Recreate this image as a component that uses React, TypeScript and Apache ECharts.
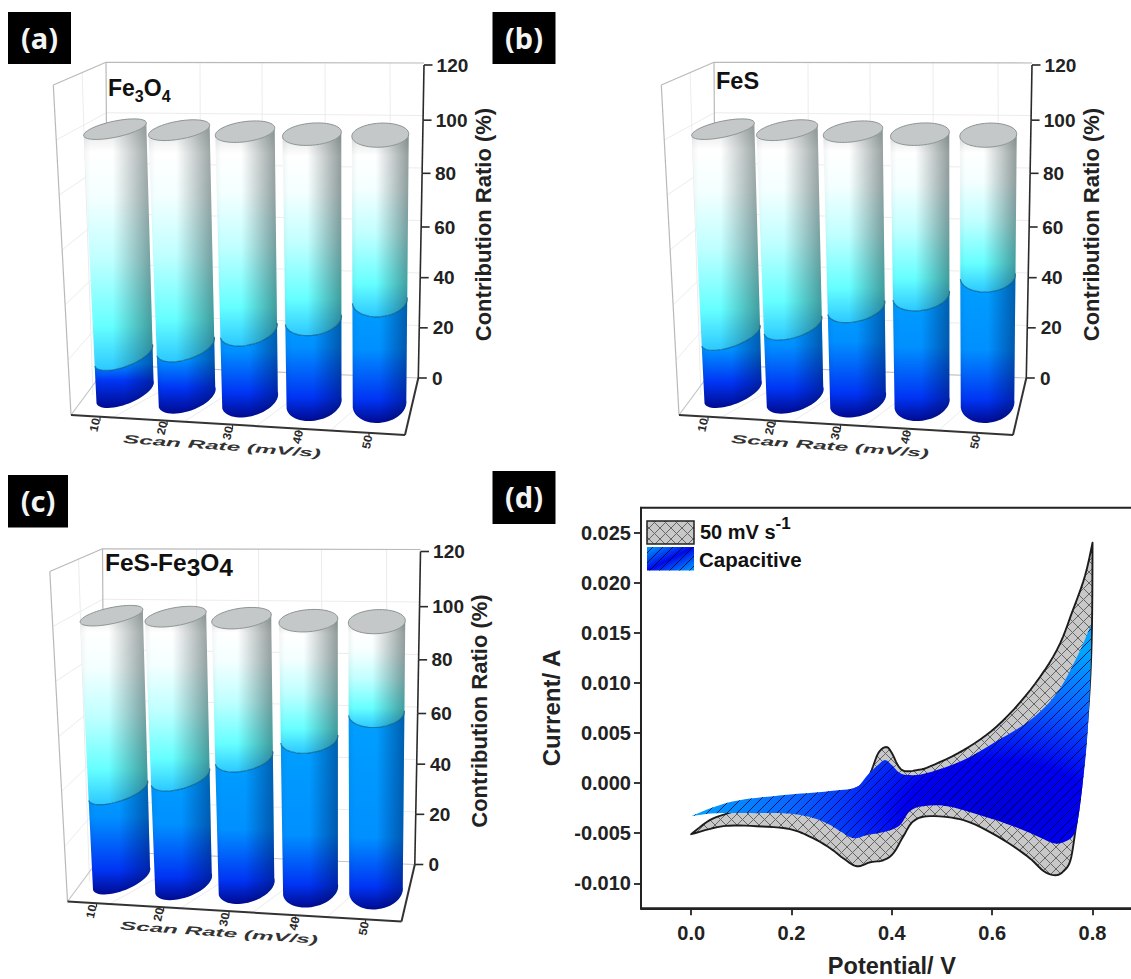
import React, { useEffect, useRef } from "react";
import * as echarts from "echarts";

const FONT = "Liberation Sans";

const scanRates = ["10", "20", "30", "40", "50"];
const capFe3O4 = [14, 19, 26, 31, 38.5];
const capFeS = [21.5, 27, 34.5, 40, 47.5];
const capComposite = [33.5, 40, 48, 56, 66];
const totalPct = 100;
const ratioTicks = [0, 20, 40, 60, 80, 100, 120];

const potentialTicks = [0, 0.2, 0.4, 0.6, 0.8];
const currentTicks = [-0.01, -0.005, 0, 0.005, 0.01, 0.015, 0.02, 0.025];

const cvUpperBranch = [
  [0, -0.0051], [0.037, -0.0037], [0.074, -0.003], [0.13, -0.0022], [0.2, -0.0015], [0.3, -0.0009],
  [0.34, -0.0002], [0.357, 0.001], [0.373, 0.003], [0.389, 0.0036], [0.4, 0.003], [0.413, 0.0017],
  [0.426, 0.0012], [0.45, 0.0013], [0.476, 0.00166], [0.543, 0.0033], [0.609, 0.00565], [0.676, 0.0093],
  [0.729, 0.0133], [0.761, 0.0173], [0.785, 0.0207], [0.8, 0.024],
];
const cvLowerBranch = [
  [0.8, 0.024], [0.799, 0.016], [0.795, 0.01], [0.786, 0.004], [0.776, -0.001], [0.766, -0.0047],
  [0.756, -0.0077], [0.742, -0.0088], [0.726, -0.0092], [0.703, -0.0088], [0.67, -0.0073], [0.61, -0.0053],
  [0.543, -0.0037], [0.476, -0.0033], [0.443, -0.0038], [0.423, -0.0053], [0.403, -0.007], [0.383, -0.0077],
  [0.357, -0.0079], [0.33, -0.0083], [0.303, -0.0075], [0.277, -0.0065], [0.243, -0.0055], [0.197, -0.0046],
  [0.13, -0.0043], [0.064, -0.0043], [0, -0.0051],
];
const capUpperBranch = [
  [0, -0.0033], [0.05, -0.0023], [0.097, -0.0017], [0.164, -0.0013], [0.23, -0.001], [0.297, -0.0007],
  [0.33, -0.0004], [0.35, 0.0007], [0.37, 0.0017], [0.386, 0.0023], [0.4, 0.0018], [0.416, 0.001],
  [0.436, 0.0008], [0.47, 0.001], [0.543, 0.0023], [0.609, 0.0042], [0.676, 0.0063], [0.729, 0.009],
  [0.769, 0.0126], [0.797, 0.0158],
];
const capLowerBranch = [
  [0.797, 0.0158], [0.796, 0.011], [0.79, 0.005], [0.782, 0.0007], [0.772, -0.0033], [0.762, -0.0052],
  [0.742, -0.0059], [0.722, -0.006], [0.69, -0.0053], [0.642, -0.0043], [0.576, -0.0032], [0.51, -0.0023],
  [0.463, -0.0023], [0.436, -0.0028], [0.416, -0.0042], [0.39, -0.0048], [0.35, -0.0052], [0.323, -0.0055],
  [0.297, -0.0048], [0.27, -0.004], [0.23, -0.0033], [0.183, -0.003], [0.13, -0.003], [0.05, -0.003], [0, -0.0033],
];

// perspective geometry of the 3D panels (pixels, relative to each panel's axes)
const geom = {
  baseDx: [0.3, -1.1, -1.5, -0.9, 1.2],
  baseDy: [14, 19, 22, 25, 26],
  topDx: [-9.7, -9, -6.5, -3, 2],
  topDy: [12, 13, 14.5, 17, 18],
  topRx: [32, 31, 30, 29.5, 28.5],
  baseRx: [30.7, 30, 29, 28, 27],
  topRy: [8, 9, 10, 11, 12],
  baseRy: [12, 14, 16, 17.5, 18.8],
  topTilt: [-12, -10, -8, -5, -3],
  baseTilt: [-22, -20, -17, -12, -8],
  labelDx: [-29.7, -26, -23.5, -17, -11],
  labelY: [425, 428, 433, 437, 442],
  tickX: [-24.7, -21, -19, -16, -9.3],
  tickY: [416.7, 421, 425, 430, 432.7],
};
const tickNudge = { 0: 0, 20: 2, 40: 4, 60: 5.5, 80: 4, 100: 3, 120: 0 };
const labelLean = { 0: 0, 20: 0.7, 40: 1.5, 60: 2.3, 80: 3, 100: 3.8, 120: 4.6 };

const panels = [
  { key: "a", caps: capFe3O4, dx: 0, dy: 0 },
  { key: "b", caps: capFeS, dx: 608, dy: 0 },
  { key: "c", caps: capComposite, dx: -3.5, dy: 486.5 },
];

function catmull(pts: number[][]) {
  const out: number[][] = [];
  for (let i = 0; i < pts.length - 1; i++) {
    const p0 = pts[Math.max(0, i - 1)], p1 = pts[i], p2 = pts[i + 1], p3 = pts[Math.min(pts.length - 1, i + 2)];
    for (let k = 0; k < 6; k++) {
      const t = k / 6, t2 = t * t, t3 = t2 * t;
      out.push([0, 1].map((d) => 0.5 * (2 * p1[d] + (p2[d] - p0[d]) * t + (2 * p0[d] - 5 * p1[d] + 4 * p2[d] - p3[d]) * t2 + (3 * p1[d] - p0[d] - 3 * p2[d] + p3[d]) * t3)));
    }
  }
  out.push(pts[pts.length - 1]);
  return out;
}

function makeHatch(size: number, cross: boolean, color: string, bg: string | null) {
  const c = document.createElement("canvas");
  c.width = size; c.height = size;
  const g = c.getContext("2d")!;
  if (bg) { g.fillStyle = bg; g.fillRect(0, 0, size, size); }
  g.strokeStyle = color; g.lineWidth = 1;
  g.beginPath();
  g.moveTo(-1, size + 1); g.lineTo(size + 1, -1);
  if (cross) { g.moveTo(-1, -1); g.lineTo(size + 1, size + 1); }
  g.stroke();
  return { image: c, repeat: "repeat", imageWidth: size, imageHeight: size };
}

const rad = (d: number) => (d * Math.PI) / 180;

function arc(c: number[], rx: number, ry: number, th: number, t0: number, t1: number, n = 28) {
  const pts: number[][] = [];
  for (let k = 0; k <= n; k++) {
    const t = t0 + ((t1 - t0) * k) / n;
    pts.push([
      c[0] + rx * Math.cos(t) * Math.cos(th) - ry * Math.sin(t) * Math.sin(th),
      c[1] + rx * Math.cos(t) * Math.sin(th) + ry * Math.sin(t) * Math.cos(th),
    ]);
  }
  return pts;
}

function renderBar(params: any, api: any) {
  const i = api.value(0);
  const cap = api.value(1);
  const p0 = api.coord([i, 0]);
  const p100 = api.coord([i, totalPct]);
  const base = [p0[0] + geom.baseDx[i], p0[1] + geom.baseDy[i]];
  const top = [p0[0] + geom.topDx[i], p100[1] + geom.topDy[i]];
  const ring = (v: number) => {
    const f = (p0[1] - api.coord([i, v])[1]) / (p0[1] - p100[1]);
    const l = (a: number, b: number) => a + (b - a) * f;
    return {
      c: [l(base[0], top[0]), l(base[1], top[1])],
      rx: l(geom.baseRx[i], geom.topRx[i]),
      ry: l(geom.baseRy[i], geom.topRy[i]),
      th: rad(l(geom.baseTilt[i], geom.topTilt[i])),
    };
  };
  const low = (r: any) => arc(r.c, r.rx, r.ry, r.th, Math.PI, 0);
  const seg = (a: any, b: any) => low(b).concat(low(a).reverse());
  const r0 = ring(0), rc = ring(cap), rt = ring(totalPct);
  const shadeUp = new echarts.graphic.LinearGradient(0, 0, 1, 0, [
    { offset: 0, color: "rgba(20,40,40,0.05)" },
    { offset: 0.1, color: "rgba(20,40,40,0)" },
    { offset: 0.42, color: "rgba(20,40,40,0)" },
    { offset: 1, color: "rgba(20,40,40,0.46)" },
  ]);
  const shadeLow = new echarts.graphic.LinearGradient(0, 0, 1, 0, [
    { offset: 0, color: "rgba(0,0,60,0.06)" },
    { offset: 0.12, color: "rgba(0,0,60,0)" },
    { offset: 0.5, color: "rgba(0,0,60,0)" },
    { offset: 1, color: "rgba(0,10,60,0.42)" },
  ]);
  const lowerH = r0.c[1] - rc.c[1] + 15;
  const lowerFill = new echarts.graphic.LinearGradient(0, 0, 0, 1, [
    { offset: 0, color: "#00a0ff" },
    { offset: Math.max(0.3, 1 - 70 / lowerH), color: "#0090ff" },
    { offset: Math.max(0.55, 1 - 22 / lowerH), color: "#0034f4" },
    { offset: 1, color: "#000a90" },
  ]);
  const upperFill = new echarts.graphic.LinearGradient(0, 0, 0, 1, [
    { offset: 0, color: "#dcdede" },
    { offset: 0.12, color: "#ffffff" },
    { offset: 0.3, color: "#f4ffff" },
    { offset: 0.55, color: "#c0ffff" },
    { offset: 0.82, color: "#66ffff" },
    { offset: 1, color: "#2cc8ff" },
  ]);
  const poly = (points: number[][], fill: any) => ({
    type: "polygon", shape: { points }, style: { fill, stroke: "none" },
  });
  const lowerPts = seg(r0, rc);
  const upperPts = seg(rc, rt);
  return {
    type: "group",
    children: [
      poly(lowerPts, lowerFill),
      poly(lowerPts, shadeLow),
      poly(upperPts, upperFill),
      poly(upperPts, shadeUp),
      { type: "polyline", shape: { points: low(rc) }, style: { fill: "none", stroke: "rgba(0,80,120,0.65)", lineWidth: 1.2 } },
      { type: "polygon", shape: { points: arc(rt.c, rt.rx, rt.ry, rt.th, 0, Math.PI * 2, 56) }, style: { fill: "#c5c8c8", stroke: "#8c9494", lineWidth: 1 } },
      {
        type: "line",
        shape: { x1: p0[0] + geom.tickX[i], y1: 0, x2: p0[0] + geom.tickX[i], y2: 4 },
        y: p0[1] - 378 + geom.tickY[i],
        style: { stroke: "#333", lineWidth: 1.2 },
      },
      {
        type: "text",
        x: p0[0] + geom.labelDx[i],
        y: p0[1] - 378 + geom.labelY[i],
        rotation: rad(78),
        scaleX: 0.95,
        scaleY: 0.9,
        style: {
          text: scanRates[i], fontFamily: FONT, fontWeight: "bold", fontSize: 13, fill: "#2a2a2a",
          align: "center", verticalAlign: "middle",
        },
      },
    ],
  };
}

function makeLeanAxis(xTop: number, xBottom: number) {
  return (params: any, api: any) => {
    const v = api.value(1);
    const idx = ratioTicks.indexOf(v);
    const y = api.coord([0, v])[1] + (tickNudge as any)[v];
    const xAt = (val: number) => xBottom + ((xTop - xBottom) * val) / 120;
    const x = xAt(v);
    const children: any[] = [
      { type: "line", shape: { x1: x, y1: y, x2: x + 8.5, y2: y }, style: { stroke: "#2a2a2a", lineWidth: 1.6 } },
    ];
    if (idx < ratioTicks.length - 1) {
      const nv = ratioTicks[idx + 1];
      const ny = api.coord([0, nv])[1] + (tickNudge as any)[nv];
      children.push({ type: "line", shape: { x1: x, y1: y, x2: xAt(nv), y2: ny }, style: { stroke: "#2a2a2a", lineWidth: 1.6 } });
    }
    return { type: "group", children };
  };
}

function frame(dx: number, dy: number) {
  const L = (x1: number, y1: number, x2: number, y2: number, stroke: string, lineWidth: number) => ({
    type: "line", z: 0, silent: true,
    shape: { x1: x1 + dx, y1: y1 + dy, x2: x2 + dx, y2: y2 + dy },
    style: { stroke, lineWidth },
  });
  const out: any[] = [];
  const faint = "#ececec";
  [20, 40, 60, 80, 100].forEach((v) => {
    const f = (120 - v) / 120;
    out.push(L(106 + 2 * f, 62.3 + 302.7 * f, 424 - 5.7 * f, 63 + 315 * f, faint, 1));
    out.push(L(53.3 + 17.7 * f, 85 + 330 * f, 106 + 2 * f, 62.3 + 302.7 * f, faint, 1));
  });
  [200, 262, 325, 390].forEach((x, k) => {
    const yb = 369 + k * 2.6;
    out.push(L(x, 63, x + 1, yb, faint, 1));
    out.push(L(x + 1, yb, x - 90 + k * 10, 419 + k * 4, faint, 1));
  });
  out.push(L(82, 72, 93, 395, faint, 1));
  const wall = "#b9b9b9";
  out.push(L(106, 62.3, 424, 63, wall, 1.2));
  out.push(L(53.3, 85, 106, 62.3, wall, 1.2));
  out.push(L(53.3, 85, 71, 415, wall, 1.2));
  out.push(L(106, 62.3, 108, 365, wall, 1.2));
  out.push(L(71, 415, 108, 365, "#c4c4c4", 1.2));
  out.push(L(108, 365, 418.3, 378, "#c4c4c4", 1.2));
  out.push(L(71, 415, 405, 435, "#333", 2));
  out.push(L(405, 435, 418.3, 378, "#333", 2));
  return out;
}

function scanRateLabel(x: number, y: number, rot: number) {
  return {
    type: "text", z: 5, x, y, rotation: rad(rot), scaleX: 1.87, scaleY: 0.9,
    style: {
      text: "Scan Rate (mV/s)", fontFamily: FONT, fontWeight: "bold", fontStyle: "italic", fontSize: 13,
      fill: "#333", align: "center", verticalAlign: "middle",
    },
  };
}

function letterBox(x: number, y: number, w: number, h: number, text: string) {
  return [
    { type: "rect", z: 6, shape: { x, y, width: w, height: h }, style: { fill: "#000" } },
    {
      type: "text", z: 7, x: x + w / 2, y: y + h / 2 - 1,
      style: { text, fontFamily: "Noto Sans", fontWeight: "bold", fontSize: 29, fill: "#f4f4f4", align: "center", verticalAlign: "middle" },
    },
  ];
}

function chemTitle(x: number, y: number, text: string, size: number, subSize: number, drop: number, spacing = 0) {
  return {
    type: "text", z: 8, x, y,
    style: {
      text, fontFamily: FONT, fontWeight: "bold", fontSize: size, fill: "#111", align: "left", verticalAlign: "middle",
      rich: {
        m: { fontFamily: FONT, fontWeight: "bold", fontSize: size, fill: "#111", padding: [0, spacing, drop, 0], verticalAlign: "bottom" },
        s: { fontFamily: FONT, fontWeight: "bold", fontSize: subSize, fill: "#111", padding: [0, spacing, 0, 0], verticalAlign: "bottom" },
      },
    },
  };
}

export default function App() {
  const ref = useRef<HTMLDivElement>(null);
  useEffect(() => {
    const chart = echarts.init(ref.current!, undefined, { renderer: "svg" });
    const crossFill = makeHatch(11, true, "#666666", "#c8c8c8");
    const lineFill = makeHatch(10, false, "rgba(0,0,60,0.78)", null);

    const grids: any[] = panels.map((p) => ({ left: 93 + p.dx, top: 65 + p.dy, width: 317, height: 313, outerBoundsMode: "none" }));
    grids.push({ left: 641, top: 507.7, width: 501.7, height: 400.6, show: true, borderColor: "#222", borderWidth: 2, outerBoundsMode: "none" });

    const xAxes: any[] = panels.map((p, i) => ({ gridIndex: i, type: "category", data: scanRates, show: false }));
    xAxes.push({
      gridIndex: 3, type: "value", min: -0.1, max: 0.9,
      name: "Potential/ V", nameLocation: "middle", nameGap: 46,
      nameTextStyle: { fontFamily: FONT, fontWeight: "bold", fontSize: 23.5, color: "#222" },
      splitLine: { show: false },
      axisLine: { onZero: false, lineStyle: { color: "#222", width: 2 } },
      axisTick: { length: 7, lineStyle: { color: "#222", width: 1.8 }, customValues: potentialTicks },
      axisLabel: {
        customValues: potentialTicks, margin: 15, formatter: (v: number) => v.toFixed(1),
        fontFamily: FONT, fontWeight: "bold", fontSize: 20, color: "#222",
      },
    });

    const richOf = () => {
      const r: any = {};
      ratioTicks.forEach((v) => {
        r["t" + v] = {
          fontFamily: FONT, fontWeight: "bold", fontSize: 19, color: "#222",
          padding: [(tickNudge as any)[v] * 2, 0, 0, (labelLean as any)[v]],
        };
      });
      return r;
    };
    const yAxes: any[] = panels.map((p, i) => ({
      gridIndex: i, type: "value", min: 0, max: 120, interval: 20, position: "right", offset: 10,
      name: "Contribution Ratio (%)", nameLocation: "middle", nameRotate: 90, nameGap: 48,
      nameTextStyle: { fontFamily: FONT, fontWeight: "bold", fontSize: 22, color: "#222", padding: [0, 6, 0, 0] },
      splitLine: { show: false }, axisLine: { show: false }, axisTick: { show: false },
      axisLabel: {
        margin: 12, align: "left", formatter: (v: number) => `{t${v}|${v}}`, rich: richOf(),
        fontFamily: FONT, fontWeight: "bold", fontSize: 19, color: "#222",
      },
    }));
    yAxes.push({
      gridIndex: 3, type: "value", min: -0.0125, max: 0.0275,
      name: "Current/ A", nameLocation: "middle", nameRotate: 90, nameGap: 78,
      nameTextStyle: { fontFamily: FONT, fontWeight: "bold", fontSize: 24, color: "#222" },
      splitLine: { show: false },
      axisLine: { onZero: false, lineStyle: { color: "#222", width: 2 } },
      axisTick: { length: 7, lineStyle: { color: "#222", width: 1.8 }, customValues: currentTicks },
      axisLabel: {
        customValues: currentTicks, margin: 10, formatter: (v: number) => v.toFixed(3),
        fontFamily: FONT, fontWeight: "bold", fontSize: 20, color: "#222",
      },
    });

    const series: any[] = [];
    panels.forEach((p, i) => {
      series.push({
        type: "custom", name: p.key, xAxisIndex: i, yAxisIndex: i, coordinateSystem: "cartesian2d", clip: false, silent: true, z: 3,
        data: p.caps.map((c, k) => [k, c]), encode: { x: 0, y: 1 }, renderItem: renderBar,
      });
      series.push({
        type: "custom", name: p.key + "-axis", xAxisIndex: i, yAxisIndex: i, coordinateSystem: "cartesian2d", clip: false, silent: true, z: 2,
        data: ratioTicks.map((v) => [0, v]), encode: { x: 0, y: 1 },
        renderItem: makeLeanAxis(424 + p.dx, 418.3 + p.dx),
      });
    });

    const blue = new echarts.graphic.RadialGradient(0.77, 0.86, 0.85, [
      { offset: 0, color: "#0000d8" },
      { offset: 0.28, color: "#0000f0" },
      { offset: 0.6, color: "#0a62ff" },
      { offset: 0.9, color: "#00a4ff" },
      { offset: 1, color: "#00a4ff" },
    ]);
    const shape = (api: any, up: number[][], lo: number[][]) => {
      const u = catmull(up.map((q) => api.coord(q)));
      const l = catmull(lo.map((q) => api.coord(q)));
      return u.concat(l.slice(1));
    };
    series.push({
      type: "custom", name: "50 mV s-1", xAxisIndex: 3, yAxisIndex: 3, coordinateSystem: "cartesian2d", clip: false, silent: true, z: 3,
      data: [[0, 0]], encode: { x: 0, y: 1 },
      renderItem: (_: any, api: any) => ({
        type: "polygon", shape: { points: shape(api, cvUpperBranch, cvLowerBranch) },
        style: { fill: crossFill, stroke: "#1c1c1c", lineWidth: 1.9, lineJoin: "round" },
      }),
    });
    series.push({
      type: "custom", name: "Capacitive", xAxisIndex: 3, yAxisIndex: 3, coordinateSystem: "cartesian2d", clip: false, silent: true, z: 4,
      data: [[0, 0]], encode: { x: 0, y: 1 },
      renderItem: (_: any, api: any) => {
        const pts = shape(api, capUpperBranch, capLowerBranch);
        return {
          type: "group",
          children: [
            { type: "polygon", shape: { points: pts }, style: { fill: blue } },
            { type: "polygon", shape: { points: pts }, style: { fill: lineFill } },
          ],
        };
      },
    });

    const legendBlue = new echarts.graphic.LinearGradient(0, 0, 1, 1, [
      { offset: 0, color: "#00a0ff" },
      { offset: 0.5, color: "#0008e8" },
      { offset: 0.62, color: "#0030f0" },
      { offset: 1, color: "#00a0ff" },
    ]);

    const graphic: any[] = [
      ...frame(0, 0),
      ...frame(608, 0),
      ...frame(-3.5, 486.5),
      scanRateLabel(222, 446, -4.2),
      scanRateLabel(830, 446, -4.2),
      scanRateLabel(219, 932.5, -4.2),
      ...letterBox(8, 12, 63, 52, "(a)"),
      ...letterBox(492.5, 12, 63, 52, "(b)"),
      ...letterBox(8, 475, 60, 52.5, "(c)"),
      ...letterBox(492.5, 471, 63, 53, "(d)"),
      chemTitle(108, 90, "{m|Fe}{s|3}{m|O}{s|4}", 23, 16, 5),
      chemTitle(716, 81, "{m|FeS}", 23.5, 14, 0),
      chemTitle(105, 565, "{m|FeS-Fe}{s|3}{m|O}{s|4}", 24.5, 24.5, 5),
      { type: "rect", z: 8, shape: { x: 647, y: 521, width: 47, height: 23 }, style: { fill: crossFill, stroke: "#222", lineWidth: 1.5 } },
      { type: "rect", z: 8, shape: { x: 647, y: 547, width: 47, height: 23.5 }, style: { fill: legendBlue } },
      { type: "rect", z: 9, shape: { x: 647, y: 547, width: 47, height: 23.5 }, style: { fill: lineFill } },
      {
        type: "text", z: 9, x: 700, y: 528,
        style: {
          text: "{m|50 mV s}{u|-1}", fontFamily: FONT, fontWeight: "bold", fontSize: 18, fill: "#111", align: "left", verticalAlign: "middle",
          rich: {
            m: { fontFamily: FONT, fontWeight: "bold", fontSize: 20, fill: "#111", padding: [8, 0, 0, 0], verticalAlign: "bottom" },
            u: { fontFamily: FONT, fontWeight: "bold", fontSize: 17, fill: "#111", padding: [0, 0, 10, 0], verticalAlign: "bottom" },
          },
        },
      },
      {
        type: "text", z: 9, x: 699, y: 559,
        style: { text: "Capacitive", fontFamily: FONT, fontWeight: "bold", fontSize: 20.5, fill: "#111", align: "left", verticalAlign: "middle" },
      },
    ];

    chart.setOption({
      animation: false,
      backgroundColor: "#fff",
      grid: grids,
      xAxis: xAxes,
      yAxis: yAxes,
      series,
      graphic,
    });
    return () => chart.dispose();
  }, []);
  return <div ref={ref} style={{ position: "absolute", left: 0, top: 0, width: 1131, height: 979, overflow: "hidden" }} />;
}
